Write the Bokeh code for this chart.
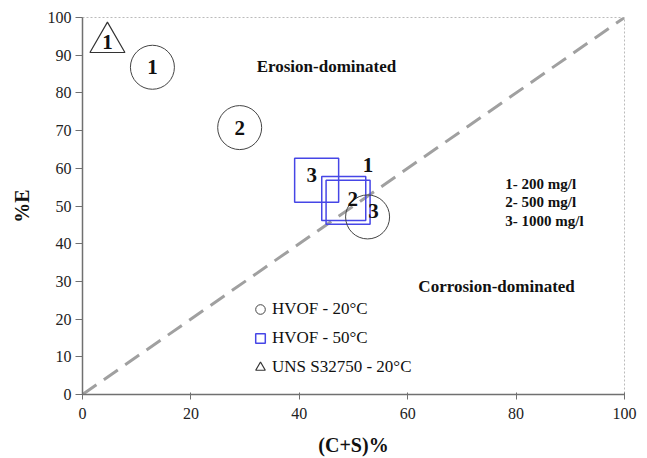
from bokeh.plotting import figure
from bokeh.models import ColumnDataSource, Legend, LegendItem, Range1d, FixedTicker
from bokeh.core.properties import value
from bokeh.embed import file_html
from bokeh.resources import INLINE

# ---- data ----
hvof20_x = [12.9, 29.0, 52.6]
hvof20_y = [86.8, 70.8, 47.1]
hvof20_labels = ["1", "2", "3"]

hvof50_x = [49.0, 48.2, 43.2]
hvof50_y = [51.0, 52.0, 56.8]
hvof50_labels = ["1", "2", "3"]

uns_x = [4.6]
uns_y = [93.4]
uns_labels = ["1"]

diag_x = [0, 100]
diag_y = [0, 100]

x_ticks = [0, 20, 40, 60, 80, 100]
y_ticks = [0, 10, 20, 30, 40, 50, 60, 70, 80, 90, 100]

region_labels = ["Erosion-dominated", "Corrosion-dominated"]
region_x = [45.0, 76.4]
region_y = [87.0, 28.7]

conc_labels = ["1- 200 mg/l", "2- 500 mg/l", "3- 1000 mg/l"]
conc_x = [78.0, 78.0, 78.0]
conc_y = [55.8, 51.0, 46.0]

# ---- styles (screen-pixel offsets of number labels) ----
hvof20_dx = [0, 0, 6]
hvof20_dy = [0, 0, -6]
hvof50_dx = [20, 9, -5]
hvof50_dy = [-37, 1, -5]

SERIF = "Liberation Serif"

p = figure(width=640, height=458, x_range=Range1d(0, 100), y_range=Range1d(0, 100),
           output_backend="svg", toolbar_location=None,
           min_border_left=82, min_border_right=16, min_border_top=17, min_border_bottom=61)
p.xgrid.visible = False
p.ygrid.visible = False
p.background_fill_color = "white"
p.border_fill_color = "white"
p.outline_line_color = "#bbbbbb"
p.outline_line_dash = "2 2"

# diagonal
p.line(diag_x, diag_y, line_color="#a0a0a0", line_width=3, line_dash="17 9")

s20 = ColumnDataSource(dict(x=hvof20_x, y=hvof20_y, t=hvof20_labels, dx=hvof20_dx, dy=hvof20_dy))
s50 = ColumnDataSource(dict(x=hvof50_x, y=hvof50_y, t=hvof50_labels, dx=hvof50_dx, dy=hvof50_dy))
suns = ColumnDataSource(dict(x=uns_x, y=uns_y, t=uns_labels))

r50 = p.scatter("x", "y", source=s50, marker="square", size=44, fill_color=None,
                line_color="#4646e6", line_width=1.5)
r20 = p.scatter("x", "y", source=s20, marker="circle", size=44, fill_color=None,
                line_color="#444444", line_width=1)
runs = p.scatter("x", "y", source=suns, marker="triangle", size=35, fill_color=None,
                 line_color="#333333", line_width=1.2)

for src in (s20, s50):
    p.text("x", "y", text="t", source=src, x_offset="dx", y_offset="dy",
           text_font=value(SERIF), text_font_style="bold", text_font_size="21px",
           text_align="center", text_baseline="middle", text_color="#111111")
p.text("x", "y", text="t", source=suns, text_font=value(SERIF), text_font_style="bold",
       text_font_size="21px", text_align="center", text_baseline="middle", text_color="#111111")

p.text(region_x, region_y, text=region_labels, text_font=value(SERIF), text_font_style="bold",
       text_font_size="17px", text_align="center", text_baseline="middle", text_color="#111111")
p.text(conc_x, conc_y, text=conc_labels, text_font=value(SERIF), text_font_style="bold",
       text_font_size="15px", text_align="left", text_baseline="middle", text_color="#111111")

# axes
p.xaxis.ticker = FixedTicker(ticks=x_ticks)
p.yaxis.ticker = FixedTicker(ticks=y_ticks)
for ax in (p.xaxis[0], p.yaxis[0]):
    ax.axis_line_color = "#707070"
    ax.axis_line_width = 1.5
    ax.major_tick_line_color = "#707070"
    ax.minor_tick_line_color = None
    ax.major_label_text_font = SERIF
    ax.major_label_text_font_size = "16px"
    ax.major_label_text_color = "#222222"
    ax.axis_label_text_font = SERIF
    ax.axis_label_text_font_style = "bold"
    ax.axis_label_text_font_size = "20px"
    ax.axis_label_text_color = "#111111"
p.xaxis.axis_label = "(C+S)%"
p.yaxis.axis_label = "%E"
p.xaxis.major_tick_in = 2
p.xaxis.major_tick_out = 5
p.yaxis.major_tick_in = 0
p.yaxis.major_tick_out = 7
p.xaxis.major_label_standoff = 8
p.yaxis.major_label_standoff = 4
p.xaxis.axis_label_standoff = 12
p.yaxis.axis_label_standoff = 12

legend = Legend(items=[
    LegendItem(label="HVOF - 20°C", renderers=[r20]),
    LegendItem(label="HVOF - 50°C", renderers=[r50]),
    LegendItem(label="UNS S32750 - 20°C", renderers=[runs]),
], location=(166, 14), padding=0, spacing=3, glyph_width=24, glyph_height=26,
    label_height=26, label_standoff=0, border_line_color=None, background_fill_alpha=0,
    label_text_font=SERIF, label_text_font_size="17px", label_text_color="#111111")
p.add_layout(legend)

open("out.html", "w").write(file_html(p, INLINE))
